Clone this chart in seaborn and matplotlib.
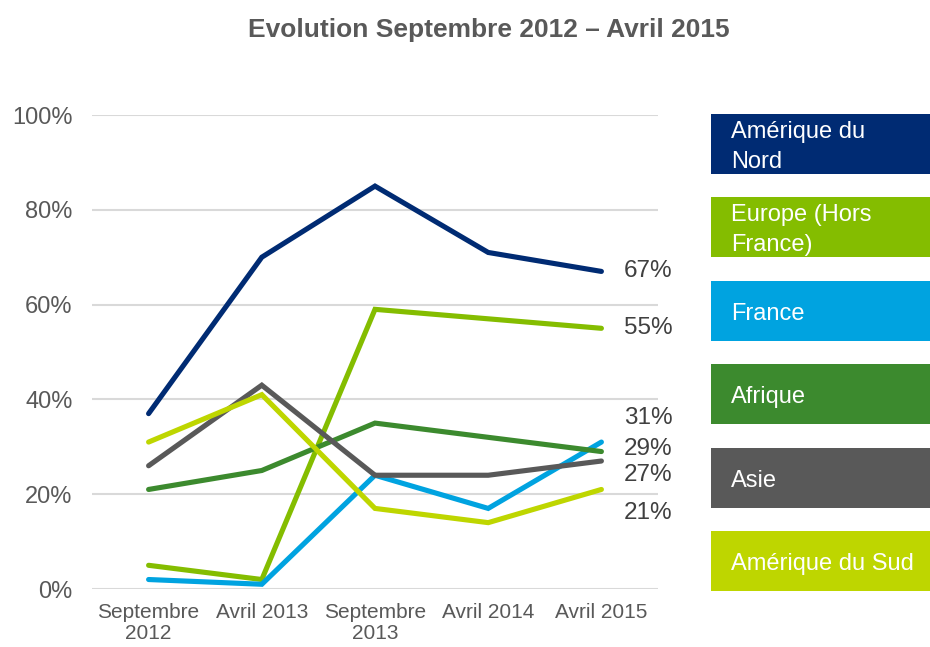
import pandas as pd
import numpy as np
import matplotlib
matplotlib.use("Agg")
import matplotlib.pyplot as plt
from matplotlib.patches import Rectangle
import seaborn as sns

# ============================================================
# DATA
# ============================================================

periods = ["Septembre\n2012", "Avril 2013", "Septembre\n2013", "Avril 2014", "Avril 2015"]

regions = ["Amérique du\nNord", "Europe (Hors\nFrance)", "France", "Afrique", "Asie", "Amérique du Sud"]

amerique_nord = [37, 70, 85, 71, 67]
europe = [5, 2, 59, 57, 55]
france = [2, 1, 24, 17, 31]
afrique = [21, 25, 35, 32, 29]
asie = [26, 43, 24, 24, 27]
amerique_sud = [31, 41, 17, 14, 21]

colors = ["#002B73", "#84BD00", "#00A3E0", "#3C8A2E", "#595959", "#BED600"]

# label nudges (in % points) so end labels do not overlap
label_nudge = [0, 0, 5, 0.5, -3, -5]

series = [amerique_nord, europe, france, afrique, asie, amerique_sud]

rows = []
for name, vals in zip(regions, series):
    for i, v in enumerate(vals):
        rows.append({"region": name, "x": i, "value": v})
df = pd.DataFrame(rows)

# ============================================================
# PLOT
# ============================================================

sns.set_style("white")
plt.rcParams["font.family"] = ["Liberation Sans", "DejaVu Sans"]

fig = plt.figure(figsize=(9.3, 6.47), dpi=100)
ax = fig.add_axes([92 / 930, 58 / 647, 566 / 930, 474 / 647])

sns.lineplot(
    data=df,
    x="x",
    y="value",
    hue="region",
    hue_order=regions,
    palette=colors,
    linewidth=3.7,
    legend=False,
    ax=ax,
    sort=False,
)

for ln in ax.get_lines():
    ln.set_solid_capstyle("round")
    ln.set_solid_joinstyle("miter")

ax.set_xlim(-0.5, 4.5)
ax.set_ylim(0, 100)
ax.set_yticks(np.arange(0, 101, 20))
ax.set_yticklabels([f"{t}%" for t in range(0, 101, 20)], fontsize=17, color="#595959")
ax.set_xticks(range(len(periods)))
ax.set_xticklabels(periods, fontsize=15, color="#595959", linespacing=1.15)
ax.tick_params(axis="both", length=0)
ax.tick_params(axis="y", pad=14)
ax.tick_params(axis="x", pad=10)
ax.set_xlabel("")
ax.set_ylabel("")
ax.grid(axis="y", color="#d9d9d9", linewidth=1.5)
ax.set_axisbelow(True)
for s in ax.spines.values():
    s.set_visible(False)

# end labels
for vals, nudge in zip(series, label_nudge):
    ax.text(4.2, vals[-1] + nudge, f"{vals[-1]}%", fontsize=17.5, color="#404040",
            va="center", ha="left", clip_on=False)

# title
fig.text(489 / 930, 1 - 30 / 647, "Evolution Septembre 2012 – Avril 2015",
         fontsize=19, fontweight="bold", color="#595959", ha="center", va="center")

# colored legend boxes
box_tops = [114, 197, 281, 364, 448, 531]
for name, col, top in zip(regions, colors, box_tops):
    fig.patches.append(Rectangle((711 / 930, 1 - (top + 60) / 647), 219 / 930, 60 / 647,
                                 transform=fig.transFigure, facecolor=col, edgecolor="none"))
    fig.text(731 / 930, 1 - (top + 33) / 647, name, fontsize=17, color="white",
             ha="left", va="center", linespacing=1.45)

fig.savefig("out.png", dpi=100)
